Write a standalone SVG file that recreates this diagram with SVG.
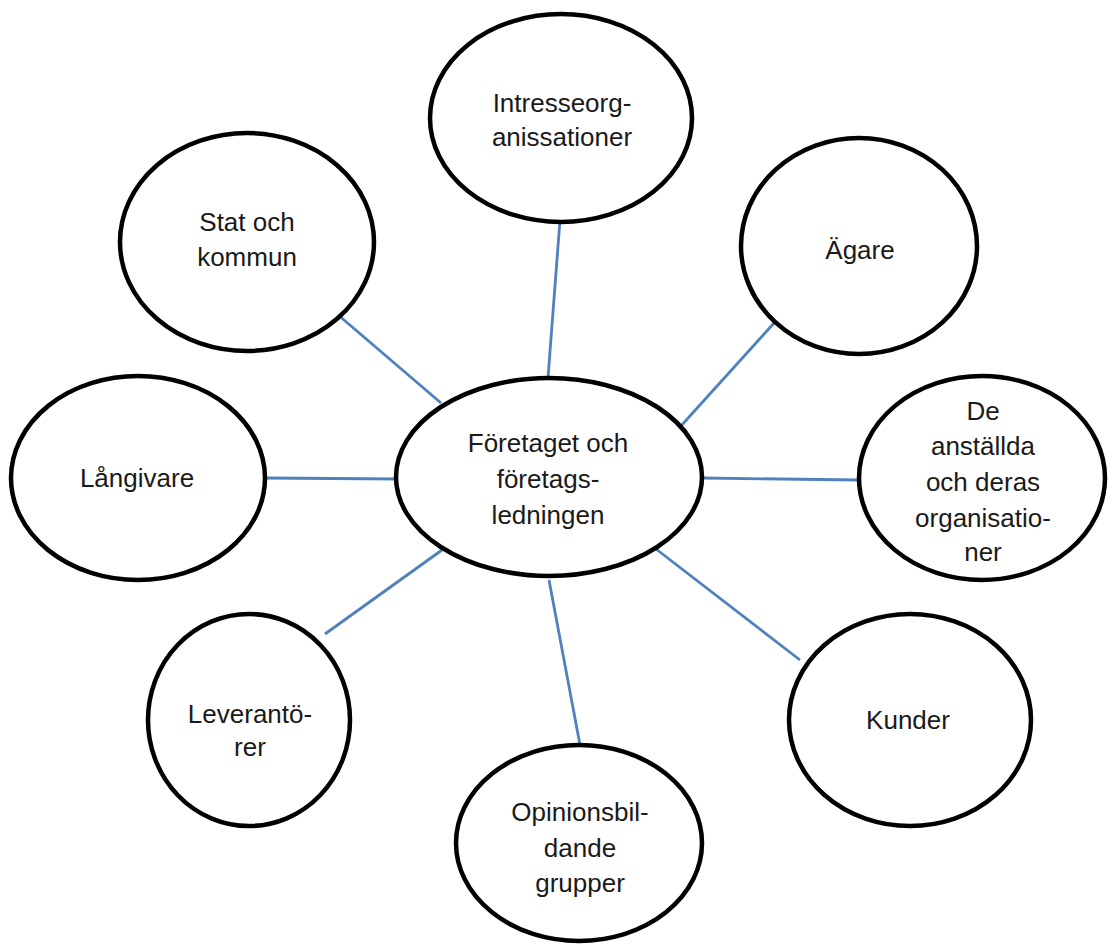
<svg xmlns="http://www.w3.org/2000/svg" width="1110" height="945" viewBox="0 0 1110 945">
<style>
.n ellipse{fill:#fff;stroke:#000;stroke-width:4.5}
.n text{font-family:"Liberation Sans",Arial,sans-serif;font-size:26px;fill:#1a1a1a;text-anchor:middle}
#connectors line{stroke:#4f81bd;stroke-width:2.8;stroke-linecap:butt}
</style>
<rect width="1110" height="945" fill="#fff"/>
<g id="connectors">
<line x1="560" y1="220" x2="548" y2="378"/>
<line x1="330" y1="308" x2="441" y2="403"/>
<line x1="775" y1="322" x2="680" y2="427"/>
<line x1="265" y1="478" x2="398" y2="479"/>
<line x1="703" y1="478" x2="858" y2="480"/>
<line x1="325" y1="634" x2="442" y2="550"/>
<line x1="549" y1="580" x2="580" y2="745"/>
<line x1="656" y1="549" x2="800" y2="660"/>
</g>
<g id="center" class="n">
<ellipse cx="549" cy="477" rx="153" ry="99"/>
<text x="548" y="452">Företaget och</text>
<text x="548" y="488">företags-</text>
<text x="548" y="524">ledningen</text>
</g>
<g id="intresse" class="n">
<ellipse cx="561" cy="118" rx="131" ry="104"/>
<text x="562" y="112">Intresseorg-</text>
<text x="562" y="146">anissationer</text>
</g>
<g id="stat" class="n">
<ellipse cx="247" cy="242" rx="127" ry="109"/>
<text x="247" y="231">Stat och</text>
<text x="247" y="266">kommun</text>
</g>
<g id="agare" class="n">
<ellipse cx="859" cy="246" rx="118" ry="108"/>
<text x="860" y="259">Ägare</text>
</g>
<g id="langivare" class="n">
<ellipse cx="138" cy="478" rx="127" ry="102"/>
<text x="137" y="487">Långivare</text>
</g>
<g id="anstallda" class="n">
<ellipse cx="982" cy="478" rx="123" ry="102"/>
<text x="983" y="420">De</text>
<text x="983" y="455">anställda</text>
<text x="983" y="491">och deras</text>
<text x="983" y="527">organisatio-</text>
<text x="983" y="561">ner</text>
</g>
<g id="leverantorer" class="n">
<ellipse cx="249" cy="720" rx="101" ry="106"/>
<text x="250" y="723">Leverantö-</text>
<text x="250" y="756">rer</text>
</g>
<g id="opinion" class="n">
<ellipse cx="579" cy="843" rx="123" ry="98"/>
<text x="580" y="821">Opinionsbil-</text>
<text x="580" y="857">dande</text>
<text x="580" y="892">grupper</text>
</g>
<g id="kunder" class="n">
<ellipse cx="910" cy="720" rx="121" ry="106"/>
<text x="908" y="729">Kunder</text>
</g>
</svg>
